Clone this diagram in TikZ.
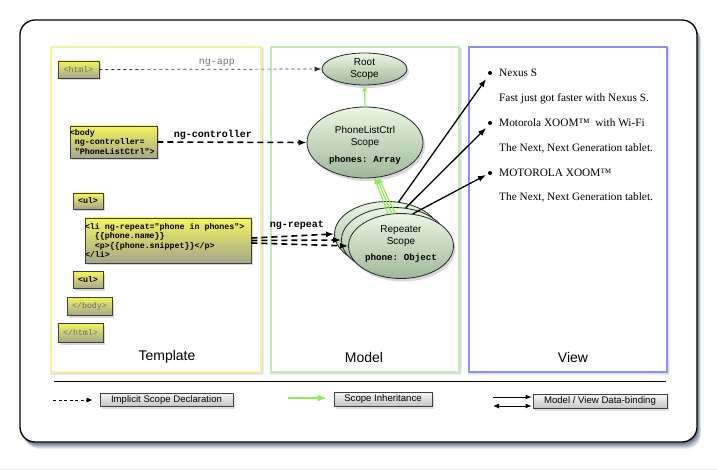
\documentclass[tikz,border=0pt]{standalone}
\usepackage{fontspec}
\setmainfont{Liberation Serif}
\newfontfamily\helv{Liberation Sans}
\newfontfamily\monof{Liberation Mono}
\usetikzlibrary{shapes.geometric,arrows.meta,shadows}
\newcommand\msp{\hspace*{0.6em}}
\definecolor{tyel}{HTML}{F4F45A}
\definecolor{tyelb}{HTML}{A6A68E}
\definecolor{egtop}{HTML}{EAF7E2}
\definecolor{egmid}{HTML}{B6E9A2}
\definecolor{egbot}{HTML}{9FB899}
\definecolor{pyel}{HTML}{F2F2A0}
\definecolor{pgrn}{HTML}{C2ECB2}
\definecolor{pblu}{HTML}{9090F0}
\definecolor{inh}{HTML}{8CEB50}
\definecolor{frsh}{HTML}{43557A}
\definecolor{lgtop}{HTML}{F6F6F6}
\definecolor{lgbot}{HTML}{C4C4C4}
\definecolor{graytxt}{HTML}{6A6A6A}
\tikzset{
  tbox/.style={draw=black!75, line width=0.8pt, top color=tyel, middle color=tyel!85!tyelb, bottom color=tyelb,
    drop shadow={shadow xshift=1.5pt, shadow yshift=-2.5pt, opacity=0.3},
    font=\monof\bfseries\fontsize{8.3}{9.3}\selectfont, inner sep=0pt, align=left},
  gbox/.style={tbox, font=\monof\fontsize{8.3}{9.3}\selectfont, text=graytxt},
  escope/.style={ellipse, draw=black!85, line width=0.8pt, top color=egtop, middle color=egmid, bottom color=egbot,
    drop shadow={shadow xshift=2pt, shadow yshift=-3pt, opacity=0.3}, inner sep=0pt},
  lbox/.style={draw=black!75, line width=0.7pt, top color=lgtop, bottom color=lgbot,
    drop shadow={shadow xshift=1.5pt, shadow yshift=-2.5pt, opacity=0.25},
    font=\helv\fontsize{9.6}{11}\selectfont, inner sep=0pt},
  panel/.style={line width=1.4pt, fill=white},
  etext/.style={font=\helv\fontsize{10}{11.5}\selectfont, align=center, inner sep=0pt},
  mtext/.style={font=\monof\bfseries\fontsize{9.2}{11}\selectfont, inner sep=0pt},
  vtext/.style={font=\fontsize{11.3}{13}\selectfont, anchor=west, inner sep=0pt},
  bullet/.style={circle, fill=black, inner sep=0pt, minimum size=4pt},
  title/.style={font=\helv\fontsize{14}{16}\selectfont, inner sep=0pt},
  lbl/.style={font=\monof\bfseries\fontsize{10}{12}\selectfont, inner sep=0pt},
  inharr/.style={draw=inh, line width=1.1pt, -{Latex[length=6pt,width=5pt]}},
  bindarr/.style={line width=1.3pt, -{Latex[length=8pt,width=6pt]}},
  declarr/.style={line width=1.6pt, dash pattern=on 6pt off 4pt, -{Latex[length=8pt,width=6pt]}}
}
\begin{document}
\begin{tikzpicture}[x=1pt,y=-1pt]
\useasboundingbox (0,0) rectangle (717,470);
\fill[white] (0,0) rectangle (717,470);
\draw[black!12, line width=1pt] (0,469) -- (717,469);
% frame shadow
\foreach \o/\op in {7/0.10,6/0.13,5/0.16,4/0.2,3/0.25,2/0.3}{
  \fill[frsh, opacity=\op, rounded corners=15pt] (20+\o*0.6,20+\o) rectangle (697+\o*0.6,442+\o);
}
\draw[line width=1.3pt, fill=white, rounded corners=15pt] (20,20) rectangle (697,442);
% panels shadows
\foreach \a/\b in {51/261,271/459,469/667}{
  \fill[black, opacity=0.07] (\a-1,47) rectangle (\b+2,374.5);
  \fill[black, opacity=0.07] (\a,48) rectangle (\b+3,373.5);
}
\draw[panel, draw=pyel] (51,47) rectangle (261,372);
\draw[panel, draw=pgrn] (271,47) rectangle (459,372);
\draw[panel, draw=pblu] (469,47) rectangle (667,372);
% template boxes
\node[gbox, minimum width=41pt, minimum height=17pt, align=center] (html) at (78.5,69.5) {<html>};
\node[tbox, minimum height=32pt, text width=87pt] (body) at (113.5,142) {<body\\\msp ng-controller=\\\msp "PhoneListCtrl">};
\node[tbox, minimum width=30pt, minimum height=16pt, align=center] (ul1) at (88,201) {<ul>};
\node[tbox, minimum height=45pt, text width=166pt] (li) at (168,240.5) {<li\msp ng-repeat="phone\msp in\msp phones">\\\msp\msp\{\{phone.name\}\}\\\msp\msp <p>\{\{phone.snippet\}\}</p>\\</li>};
\node[tbox, minimum width=30pt, minimum height=17pt, align=center] (ul2) at (88,280) {<ul>};
\node[gbox, minimum width=45pt, minimum height=18pt, align=center] (cbody) at (89.5,306) {</body>};
\node[gbox, minimum width=45pt, minimum height=19pt, align=center] (chtml) at (80.5,332.5) {</html>};
% model ellipses
\node[escope, minimum width=85pt, minimum height=32pt] (root) at (364.5,69) {};
\node[etext] (roottxt) at (364.5,69) {Root\\Scope};
\node[escope, minimum width=116pt, minimum height=71pt] (pl) at (365,142.5) {};
\node[etext] (pltxt) at (365,137) {PhoneListCtrl\\Scope};
\node[mtext] (pltxt2) at (365,160) {phones:\msp Array};
\node[escope, minimum width=105pt, minimum height=65pt] (rb) at (387,234) {};
\node[escope, minimum width=105pt, minimum height=65pt] (rm) at (394,240) {};
\node[escope, minimum width=105pt, minimum height=65pt] (rf) at (401,246) {};
\node[etext] (rtxt) at (401,236) {Repeater\\Scope};
\node[mtext] (rtxt2) at (401,258) {phone:\msp Object};
% view
\node[bullet] (b1) at (490,73) {};
\node[bullet] (b2) at (490,123) {};
\node[bullet] (b3) at (490,173) {};
\node[vtext] (v1) at (499,73) {Nexus S};
\node[vtext] (v2) at (499,99) {Fast just got faster with Nexus S.};
\node[vtext] (v3) at (499,123) {Motorola XOOM™~ with Wi-Fi};
\node[vtext] (v4) at (499,148) {The Next, Next Generation tablet.};
\node[vtext] (v5) at (499,173) {MOTOROLA XOOM™};
\node[vtext] (v6) at (499,197) {The Next, Next Generation tablet.};
\coordinate (t1) at (486,79);
\coordinate (t2) at (486,128);
\coordinate (t3) at (486,175);
% titles
\node[title] (tt) at (167,357) {Template};
\node[title] (tm) at (364,357) {Model};
\node[title] (tv) at (573,357) {View};
% connectors
\draw[black!80, line width=0.7pt, dash pattern=on 3pt off 3pt, -{Latex[length=7pt,width=5pt]}] (html.east) -- (root.west);
\node[font=\monof\fontsize{10}{12}\selectfont, text=black!55, inner sep=0pt] (lapp) at (217,63) {ng-app};
\draw[declarr] (body.east) -- (pl.west);
\node[lbl] (lctrl) at (213,135) {ng-controller};
\draw[declarr] ([yshift=2.5pt]li.east) -- (rb.west);
\draw[declarr] (li.east) -- (rm.west);
\draw[declarr] ([yshift=-2.5pt]li.east) -- (rf.west);
\node[lbl] (lrep) at (297,225) {ng-repeat};
\draw[inharr] (pl.north) -- (root.south);
\draw[inharr] (rf.112) -- (pl.-75);
\draw[inharr] (rf.106) -- (pl.-72);
\draw[inharr] (rf.100) -- (pl.-69);
\draw[bindarr] (rb.70) -- (t1);
\draw[bindarr] (rm.70) -- (t2);
\draw[bindarr] (rf.70) -- (t3);
% legend
\coordinate (sepl) at (54,381.5);
\coordinate (sepr) at (666,381.5);
\draw[line width=1.3pt] (sepl) -- (sepr);
\node[lbox, minimum width=133pt, minimum height=13.5pt] (lg1) at (166.5,399.8) {Implicit Scope Declaration};
\node[lbox, minimum width=98pt, minimum height=14pt] (lg2) at (383,399) {Scope Inheritance};
\node[lbox, minimum width=134pt, minimum height=14pt] (lg3) at (600,401.5) {Model / View Data-binding};
\coordinate (d1) at (53,400);
\coordinate (g1) at (288,398);
\coordinate (m1) at (493,397);
\coordinate (m2) at (493,406);
\draw[line width=0.7pt, dash pattern=on 3pt off 2.5pt, -{Latex[length=6pt,width=5pt]}] (d1) -- ([xshift=-7pt]lg1.west |- d1);
\draw[draw=inh, line width=1.4pt, -{Latex[length=9pt,width=7pt]}] (g1) -- ([xshift=-7pt]lg2.west |- g1);
\draw[line width=1pt, -{Latex[length=6pt,width=5pt]}] (m1) -- ([xshift=-1pt]lg3.west |- m1);
\draw[line width=1pt, {Latex[length=6pt,width=5pt]}-{Latex[length=6pt,width=5pt]}] (m2) -- ([xshift=-1pt]lg3.west |- m2);
\end{tikzpicture}
\end{document}
